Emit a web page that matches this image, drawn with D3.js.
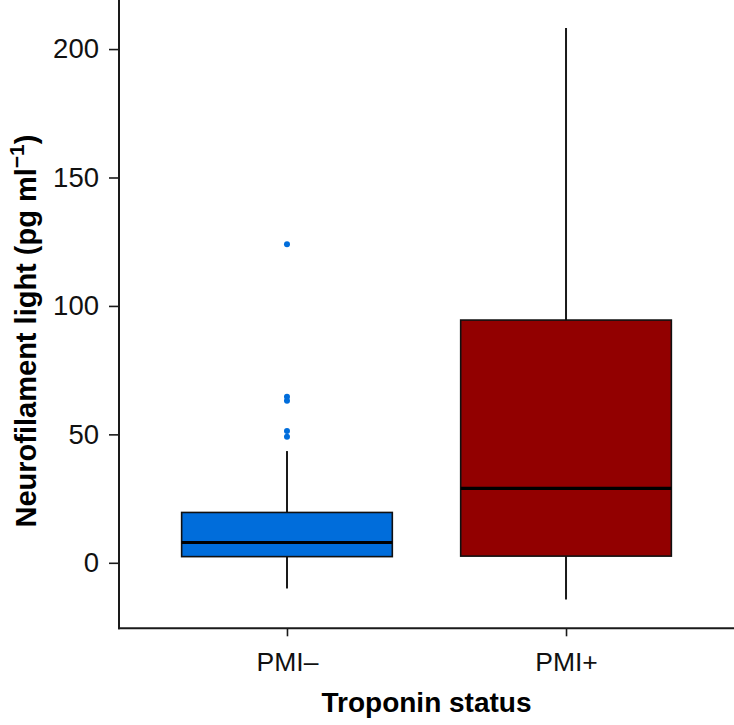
<!DOCTYPE html>
<html>
<head>
<meta charset="utf-8">
<script src="https://cdn.jsdelivr.net/npm/d3@7"></script>
<style>
  html, body { margin: 0; padding: 0; background: #fff; }
  svg { display: block; font-family: "Liberation Sans", Arial, sans-serif; }
</style>
</head>
<body>
<div id="chart"></div>
<script>
// data
const groups = ["PMI–", "PMI+"];
const lowerWhisker = [-10.0, -14.3];
const q1 = [2.4, 2.6];
const median = [7.9, 29.0];
const q3 = [19.6, 94.5];
const upperWhisker = [43.5, 208.2];
const outliers = [
    [124.0, 64.6, 63.1, 51.3, 49.1],
    []
];
const colors = ["#006ddb", "#920000"];
const yTicks = [0, 50, 100, 150, 200];

const width = 734;
const height = 725;
const marginLeft = 119;
const marginBottom = 97;
const plotBottom = height - marginBottom + 0.3;

const boxes = groups.map((g, i) => ({
    group: g,
    lo: lowerWhisker[i],
    q1: q1[i],
    med: median[i],
    q3: q3[i],
    hi: upperWhisker[i],
    out: outliers[i],
    color: colors[i]
}));

const x = d3
    .scalePoint()
    .domain(groups)
    .range([marginLeft, width])
    .padding(0.602);
const y = d3
    .scaleLinear()
    .domain([-25.5, 219.1])
    .range([plotBottom, 0]);

const boxWidth = x.step() * 0.755;

const svg = d3
    .select("#chart")
    .append("svg")
    .attr("width", width)
    .attr("height", height)
    .attr("viewBox", [0, 0, width, height]);

// whiskers
svg.append("g")
    .selectAll("line")
    .data(boxes)
    .join("line")
    .attr("x1", (d) => x(d.group))
    .attr("x2", (d) => x(d.group))
    .attr("y1", (d) => y(d.lo))
    .attr("y2", (d) => y(d.hi))
    .attr("stroke", "#1a1a1a")
    .attr("stroke-width", 2);

// boxes
svg.append("g")
    .selectAll("rect")
    .data(boxes)
    .join("rect")
    .attr("x", (d) => x(d.group) - boxWidth / 2)
    .attr("width", boxWidth)
    .attr("y", (d) => y(d.q3))
    .attr("height", (d) => y(d.q1) - y(d.q3))
    .attr("fill", (d) => d.color)
    .attr("stroke", "#111")
    .attr("stroke-width", 1.6);

// medians
svg.append("g")
    .selectAll("line")
    .data(boxes)
    .join("line")
    .attr("x1", (d) => x(d.group) - boxWidth / 2)
    .attr("x2", (d) => x(d.group) + boxWidth / 2)
    .attr("y1", (d) => y(d.med))
    .attr("y2", (d) => y(d.med))
    .attr("stroke", "#000")
    .attr("stroke-width", 3.2);

// outliers
svg.append("g")
    .selectAll("circle")
    .data(boxes.flatMap((b) => b.out.map((v) => ({ group: b.group, v, color: b.color }))))
    .join("circle")
    .attr("cx", (d) => x(d.group))
    .attr("cy", (d) => y(d.v))
    .attr("r", 3)
    .attr("fill", (d) => d.color);

// axes
const yAxis = svg
    .append("g")
    .attr("transform", `translate(${marginLeft},0)`)
    .call(d3.axisLeft(y).tickValues(yTicks).tickSizeOuter(0).tickSize(10).tickPadding(10));
yAxis.select(".domain").remove();
yAxis.append("line")
    .attr("x1", 0).attr("x2", 0)
    .attr("y1", 0).attr("y2", plotBottom + 1)
    .attr("stroke", "#1a1a1a")
    .attr("stroke-width", 2);

const xAxis = svg
    .append("g")
    .attr("transform", `translate(0,${plotBottom})`)
    .call(d3.axisBottom(x).tickSizeOuter(0).tickSize(8).tickPadding(16));
xAxis.select(".domain").remove();
xAxis.append("line")
    .attr("x1", marginLeft - 1).attr("x2", width)
    .attr("y1", 0).attr("y2", 0)
    .attr("stroke", "#1a1a1a")
    .attr("stroke-width", 2);

svg.selectAll(".tick line").attr("stroke", "#1a1a1a").attr("stroke-width", 1.6);
svg.selectAll(".tick text")
    .attr("fill", "#111")
    .style("font-size", "27.5px")
    .style("font-family", "'Liberation Sans', Arial, sans-serif");
xAxis.selectAll(".tick text").style("font-size", "26.5px");

// axis titles
svg.append("text")
    .attr("x", (marginLeft + width) / 2)
    .attr("y", 711.5)
    .attr("text-anchor", "middle")
    .attr("font-weight", "bold")
    .attr("font-size", 28)
    .attr("fill", "#000")
    .text("Troponin status");

const yLabel = svg.append("text")
    .attr("transform", "translate(36,331) rotate(-90)")
    .attr("text-anchor", "middle")
    .attr("font-weight", "bold")
    .attr("font-size", 29)
    .attr("fill", "#000");
yLabel.append("tspan").text("Neurofilament light (pg ml");
yLabel.append("tspan")
    .attr("font-size", 21)
    .attr("dy", -12)
    .text("−1");
yLabel.append("tspan")
    .attr("dy", 12)
    .text(")");
</script>
</body>
</html>
